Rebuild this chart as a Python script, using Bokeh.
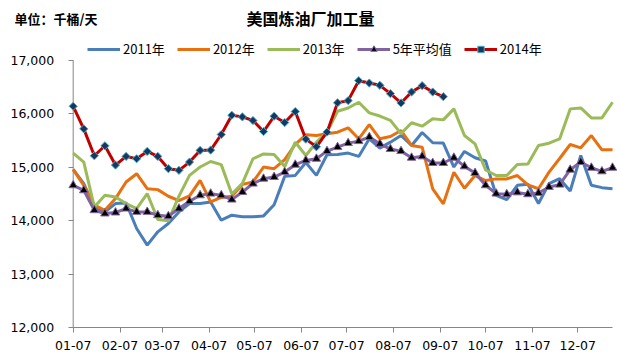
import numpy as np
import pandas as pd
from bokeh.plotting import figure
from bokeh.models import (Range1d, FixedTicker, NumeralTickFormatter, Legend, LegendItem,
                          Label, LinearAxis)
from bokeh.embed import file_html
from bokeh.resources import INLINE

# ---- data ----
chart_title = "美国炼油厂加工量"
unit_text = "单位：千桶/天"
first_week = "2014-01-07"
n_weeks = 52
month_ticks = ["01-07", "02-07", "03-07", "04-07", "05-07", "06-07",
               "07-07", "08-07", "09-07", "10-07", "11-07", "12-07"]
axis_end = "2014-12-30"

y2011 = [14961, 14694, 14258, 14165, 14321, 14333, 13854, 13543, 13792, 13947,
         14165, 14321, 14321, 14352, 14010, 14103, 14072, 14072, 14090, 14300,
         14830, 14848, 15090, 14848, 15235, 15240, 15266, 15204, 15534, 15360,
         15471, 15596, 15409, 15652, 15460, 15453, 15005, 15297, 15179, 15117,
         14476, 14395, 14663, 14681, 14321, 14694, 14787, 14557, 15222, 14663,
         14619, 14600]
y2012 = [14955, 14663, 14290, 14196, 14414, 14725, 14880, 14600, 14582, 14458,
         14375, 14465, 14756, 14352, 14436, 14458, 14680, 14725, 15005, 14974,
         15142, 15428, 15608, 15596, 15627, 15658, 15739, 15534, 15801, 15534,
         15577, 15689, 15409, 15377, 14596, 14315, 14908, 14608, 14846, 14752,
         14783, 14783, 14846, 14670, 14598, 14910, 15165, 15427, 15365, 15595,
         15327, 15327]
y2013 = [15266, 15098, 14258, 14476, 14445, 14321, 14227, 14507, 14022, 13997,
         14460, 14850, 15005, 15108, 15050, 14500, 14700, 15160, 15251, 15239,
         15014, 15470, 15220, 15470, 15657, 16050, 16110, 16218, 16020, 15960,
         15880, 15630, 15835, 15770, 15910, 15888, 16094, 15595, 15439, 14950,
         14846, 14846, 15051, 15064, 15407, 15451, 15532, 16094, 16112, 15925,
         15925, 16218]
avg5 = [14663, 14569, 14196, 14134, 14153, 14227, 14165, 14165, 14103, 14084,
        14227, 14364, 14476, 14507, 14476, 14395, 14538, 14694, 14787, 14818,
        14911, 15048, 15129, 15160, 15303, 15378, 15453, 15490, 15565, 15440,
        15341, 15303, 15179, 15204, 15080, 15080, 15179, 15017, 14893, 14663,
        14507, 14495, 14530, 14495, 14520, 14632, 14675, 14955, 15098, 14992,
        14924, 14992]
y2014 = [16143, 15720, 15216, 15403, 15042, 15204, 15160, 15297, 15204, 14974,
         14943, 15098, 15316, 15322, 15614, 15975, 15944, 15876, 15670, 15956,
         15838, 16044, 15527, 15384, 15658, 16208, 16249, 16622, 16578, 16535,
         16379, 16205, 16410, 16529, 16410, 16323]
y_ticks = [12000, 13000, 14000, 15000, 16000, 17000]

# ---- positions (days since first week) ----
dates = pd.date_range(first_week, periods=n_weeks, freq="7D")
x = np.asarray((dates - dates[0]).days, dtype=float)
tick_dates = pd.to_datetime(["2014-" + t for t in month_ticks])
tick_pos = [int(d) for d in (tick_dates - dates[0]).days]
x_end = float((pd.Timestamp(axis_end) - dates[0]).days)

# ---- canvas / layout geometry (pixels) ----
W, H = 621, 364
plot_left, plot_right = 72.7, 612.0      # pixel x of first week and of axis end
plot_top, plot_bottom = 60.0, 327.0      # pixel y of top and bottom y tick
px_per_day = (plot_right - plot_left) / x_end
px_per_unit = (plot_bottom - plot_top) / (y_ticks[-1] - y_ticks[0])
xr = Range1d(-plot_left / px_per_day, (W - plot_left) / px_per_day)
yr = Range1d(y_ticks[0] - (H - plot_bottom) / px_per_unit,
             y_ticks[-1] + plot_top / px_per_unit)

p = figure(width=W, height=H, title_location=None, x_range=xr, y_range=yr,
           output_backend="svg", toolbar_location=None,
           x_axis_location=None, y_axis_location=None,
           min_border_left=0, min_border_right=0, min_border_top=0, min_border_bottom=0)
p.grid.visible = False
p.outline_line_color = None

xaxis = LinearAxis(fixed_location=y_ticks[0], ticker=FixedTicker(ticks=tick_pos),
                   major_label_overrides={tp: lbl for tp, lbl in zip(tick_pos, month_ticks)},
                   major_label_standoff=8)
yaxis = LinearAxis(fixed_location=0, ticker=FixedTicker(ticks=y_ticks),
                   formatter=NumeralTickFormatter(format="0,0"), major_label_standoff=14)
for ax in (xaxis, yaxis):
    ax.axis_line_color = None
    ax.major_tick_line_color = "#868686"
    ax.major_tick_in = 0
    ax.major_tick_out = 5
    ax.minor_tick_line_color = None
    ax.major_label_text_font = "DejaVu Sans"
    ax.major_label_text_font_size = "12.5px"
    ax.major_label_text_color = "#000000"
p.add_layout(xaxis, "below")
p.add_layout(yaxis, "left")

# axis lines
p.segment(x0=[0, 0], y0=[y_ticks[0], y_ticks[0]], x1=[0, x_end], y1=[y_ticks[-1], y_ticks[0]],
          line_color="#868686", line_width=1)

r11 = p.line(x, y2011, line_color="#4A7EBB", line_width=3)
r12 = p.line(x, y2012, line_color="#E8700F", line_width=3)
r13 = p.line(x, y2013, line_color="#9BBB59", line_width=3)
ra_l = p.line(x, avg5, line_color="#8064A2", line_width=3)
ra_m = p.scatter(x, avg5, marker="triangle", size=8.5, fill_color="black",
                 line_color="#8064A2", line_width=1)
n14 = len(y2014)
r14_l = p.line(x[:n14], y2014, line_color="#C00000", line_width=3)
r14_m = p.scatter(x[:n14], y2014, marker="square", angle=np.pi / 4, size=5.8,
                  fill_color="#17375E", line_color="#4BACC6", line_width=1)

legend = Legend(items=[
    LegendItem(label="2011年", renderers=[r11]),
    LegendItem(label="2012年", renderers=[r12]),
    LegendItem(label="2013年", renderers=[r13]),
    LegendItem(label="5年平均值", renderers=[ra_l, ra_m]),
    LegendItem(label="2014年", renderers=[r14_l, r14_m]),
], orientation="horizontal", location=(87, H - 58))
legend.label_text_font = "Noto Sans CJK SC"
legend.label_text_font_size = "13px"
legend.label_text_color = "black"
legend.glyph_width = 33
legend.glyph_height = 16
legend.label_height = 16
legend.label_standoff = 3
legend.spacing = 12
legend.padding = 0
legend.margin = 0
legend.border_line_color = None
legend.background_fill_alpha = 0
p.add_layout(legend)

p.add_layout(Label(x=310, y=H - 17, x_units="screen", y_units="screen", text=chart_title,
                   text_align="center", text_baseline="middle",
                   text_font="Noto Sans CJK SC", text_font_size="16px",
                   text_font_style="bold", text_color="black"))
p.add_layout(Label(x=14, y=H - 17.5, x_units="screen", y_units="screen", text=unit_text,
                   text_align="left", text_baseline="middle",
                   text_font="Noto Sans CJK SC", text_font_size="13px",
                   text_font_style="bold", text_color="black"))

open("out.html", "w").write(file_html(p, INLINE))
